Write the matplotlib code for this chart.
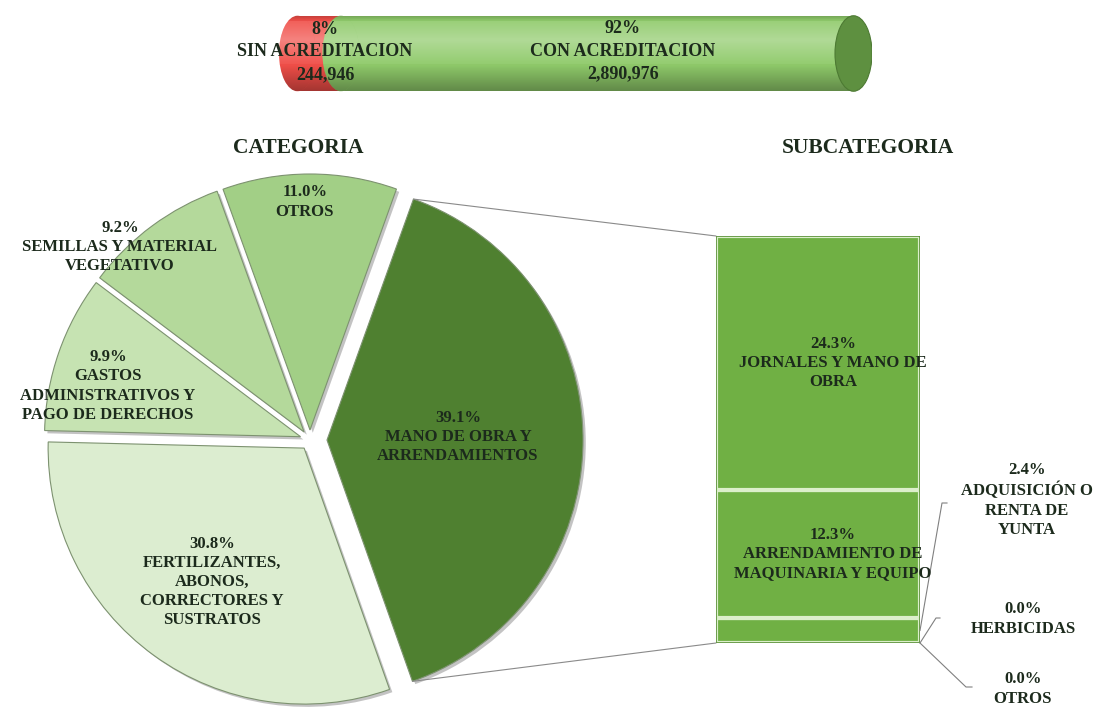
import numpy as np
import matplotlib
matplotlib.use('Agg')
import matplotlib.pyplot as plt
from matplotlib.patches import Ellipse, Rectangle, ConnectionPatch
from matplotlib import patheffects as pe

# datos
acred_names = ['SIN ACREDITACION', 'CON ACREDITACION']
acred_values = [244946, 2890976]
acred_pct = [8, 92]

cat_names = ['MANO DE OBRA Y\nARRENDAMIENTOS', 'OTROS', 'SEMILLAS Y MATERIAL\nVEGETATIVO',
             'GASTOS\nADMINISTRATIVOS Y\nPAGO DE DERECHOS',
             'FERTILIZANTES,\nABONOS,\nCORRECTORES Y\nSUSTRATOS']
cat_pct = [39.1, 11.0, 9.2, 9.9, 30.8]

# subcategorias de mano de obra, de abajo hacia arriba
sub_names = ['OTROS', 'HERBICIDAS', 'ADQUISICIÓN O\nRENTA DE\nYUNTA',
             'ARRENDAMIENTO DE\nMAQUINARIA Y EQUIPO', 'JORNALES Y MANO DE\nOBRA']
sub_pct = [0.0, 0.0, 2.4, 12.3, 24.3]

plt.rcParams['font.family'] = ['Liberation Serif', 'DejaVu Serif']
TXT = '#1c2a1c'
W, H = 1106, 707
fig = plt.figure(figsize=(W / 100, H / 100), dpi=100)
fig.patch.set_facecolor('white')

def rect(l, t, r, b):
    return [l / W, 1 - b / H, (r - l) / W, (b - t) / H]

# capa de texto en pixeles
bg = fig.add_axes([0, 0, 1, 1])
bg.set_xlim(0, W)
bg.set_ylim(H, 0)
bg.axis('off')
bg.set_zorder(10)
bg.patch.set_alpha(0)

# ---------- cilindro superior ----------
total = sum(acred_values)
k = 18.5 / 556
cyl = fig.add_axes(rect(279, 15, 872, 92))
cyl.set_xlim(-k * total, (1 + k) * total)
cyl.set_ylim(-1.02, 1.02)
cyl.axis('off')

# sombreado vertical del cilindro
t = np.linspace(1, -1, 120)
shade = np.zeros((120, 1, 4))
wa = np.clip(0.3 * (1 - np.abs(t - 0.35) / 0.75), 0, None)
ba = np.clip(0.32 * (-t - 0.3) / 0.7, 0, None) + np.clip(0.2 * (t - 0.85) / 0.15, 0, None)
shade[:, 0, :3] = np.where(ba[:, None] > 0, 0.0, 1.0)
shade[:, 0, 3] = np.where(ba > 0, ba, wa)

def shaded(patch, z):
    patch.set_zorder(z)
    cyl.add_patch(patch)
    im = cyl.imshow(shade, extent=[-k * total, (1 + k) * total, -1, 1], aspect='auto',
                    zorder=z + 0.05, interpolation='bilinear')
    im.set_clip_path(patch)

cyl_colors = ['#f04e48', '#8fca6a']
left = 0
for i, v in enumerate(acred_values):
    shaded(Rectangle((left, -1), v, 2, facecolor=cyl_colors[i], edgecolor='none'), 1 + i)
    shaded(Ellipse((left, 0), 2 * k * total, 2, facecolor=cyl_colors[i], edgecolor='none'), 1.5 + i)
    left += v
cyl.add_patch(Ellipse((total, 0), 2 * k * total, 2, facecolor='#5e9040', edgecolor='#4d7a33',
                      lw=0.8, zorder=5))
cyl.set_xlim(-k * total, (1 + k) * total)
cyl.set_ylim(-1.02, 1.02)

acred_xy = [(325, 52), (623, 51)]
for name, v, p, (x, y) in zip(acred_names, acred_values, acred_pct, acred_xy):
    bg.text(x, y, f'{p}%\n{name}\n{v:,}', ha='center', va='center', fontsize=13,
            fontweight='bold', linespacing=1.45, color=TXT)

# ---------- pastel ----------
R = 256
cx, cy = 310, 440
half = 1.15 * R
pie_ax = fig.add_axes(rect(cx - half, cy - half, cx + half, cy + half))
cat_colors = ['#4f8030', '#a2cf86', '#b4d99b', '#c6e3b2', '#dcedd0']
explode = [17 / R, 10 / R, 10 / R, 10 / R, 10 / R]
wedges, _ = pie_ax.pie(cat_pct, startangle=-70.5, counterclock=True, radius=1, explode=explode,
                       colors=cat_colors, wedgeprops=dict(linewidth=0.8, edgecolor='#7d9270'))
for w in wedges:
    w.set_path_effects([pe.SimplePatchShadow(offset=(2, -2), shadow_rgbFace='#555555', alpha=0.35),
                        pe.Normal()])
pie_ax.set_xlim(-1.15, 1.15)
pie_ax.set_ylim(-1.15, 1.15)
pie_ax.set_aspect('equal')

cat_xy = [(458, 437), (305, 202), (120, 247), (108, 386), (212, 582)]
for name, p, (x, y) in zip(cat_names, cat_pct, cat_xy):
    bg.text(x, y, f'{p:.1f}%\n{name}', ha='center', va='center', fontsize=12,
            fontweight='bold', linespacing=1.27, color=TXT)

bg.text(298, 148, 'CATEGORIA', ha='center', va='center', fontsize=15.5, fontweight='bold', color=TXT)
bg.text(868, 148, 'SUBCATEGORIA', ha='center', va='center', fontsize=15.5, fontweight='bold', color=TXT)

# ---------- barra de subcategorias ----------
bar_ax = fig.add_axes(rect(716, 236, 920, 643))
sub_total = sum(sub_pct)
bottoms = np.concatenate([[0], np.cumsum(sub_pct)[:-1]])
bar_ax.bar(0, sub_pct, bottom=bottoms, width=1, color='#70b044', edgecolor='#dcefcb', linewidth=3)
bar_ax.set_xlim(-0.5, 0.5)
bar_ax.set_ylim(0, sub_total)
bar_ax.axis('off')
bar_ax.add_patch(Rectangle((-0.5, 0), 1, sub_total, fill=False, edgecolor='#5a8f38', lw=1.2, zorder=3))

def to_px(ax, x, y):
    return bg.transData.inverted().transform(ax.transData.transform((x, y)))

sub_xy = [(1023, 689), (1023, 619), (1027, 500), (833, 554), (833, 363)]
tick_xy = [[(966, 687), (972, 687)], [(936, 618), (940, 618)], [(942, 503), (947, 503)], None, None]
for name, p, b, (x, y), tk in zip(sub_names, sub_pct, bottoms, sub_xy, tick_xy):
    bg.text(x, y, f'{p:.1f}%\n{name}', ha='center', va='center', fontsize=12,
            fontweight='bold', linespacing=1.27, color=TXT)
    if tk is not None:
        sx, sy = to_px(bar_ax, 0.5, b + p / 2)
        bg.plot([sx, tk[0][0], tk[1][0]], [sy, tk[0][1], tk[1][1]], color='#808080', lw=0.8)

# lineas de conexion pastel -> barra
w0 = wedges[0]
for ang, yb in [(w0.theta2, sub_total), (w0.theta1, 0)]:
    px = w0.center[0] + w0.r * np.cos(np.radians(ang))
    py = w0.center[1] + w0.r * np.sin(np.radians(ang))
    con = ConnectionPatch(xyA=(px, py), coordsA=pie_ax.transData, xyB=(-0.5, yb), coordsB=bar_ax.transData,
                          color='#8a8a8a', lw=0.8)
    fig.add_artist(con)

fig.savefig('out.png', dpi=100, facecolor='white')
